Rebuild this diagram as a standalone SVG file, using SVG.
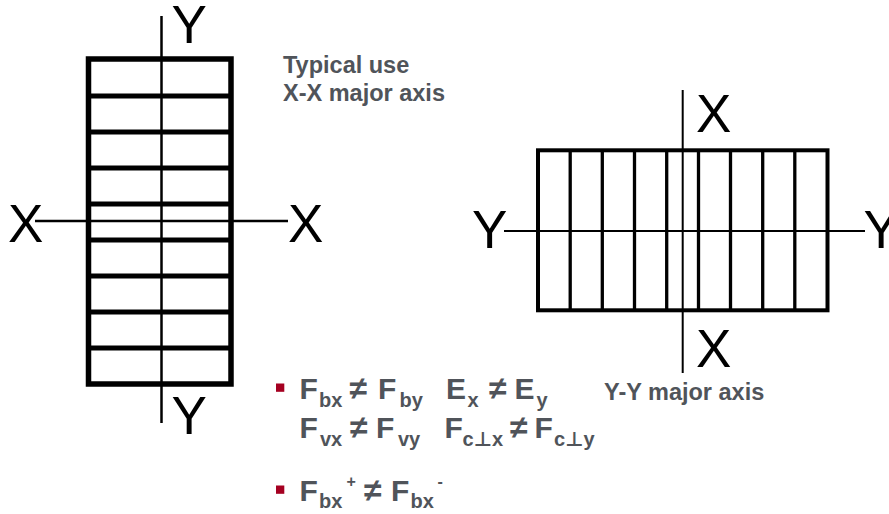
<svg xmlns="http://www.w3.org/2000/svg" width="889" height="514" viewBox="0 0 889 514">
  <style>
    .axis-label { font-family: "Liberation Sans", Arial, sans-serif; font-size: 53px; fill: #000; }
    .note { font-family: "Liberation Sans", Arial, sans-serif; font-size: 23.5px; font-weight: bold; fill: #50545a; }
    .eq { font-family: "Liberation Sans", "DejaVu Sans", Arial, sans-serif; font-size: 30px; font-weight: bold; fill: #50545a; }
    .sub { font-size: 20px; }
    .sup { font-size: 16px; }
    .ne { font-size: 32px; }
    .board { fill: none; stroke: #000; }
    .axis { stroke: #000; fill: none; }
    .bullet { fill: #a50021; }
  </style>
  <rect width="889" height="514" fill="#fff"/>

  <!-- Beam laid on edge: bending about X-X -->
  <g id="section-xx">
    <rect class="board" x="88.5" y="59" width="142.5" height="325" stroke-width="5.5"/>
    <g class="board" stroke-width="5">
      <line x1="88.5" y1="96" x2="231" y2="96"/>
      <line x1="88.5" y1="132" x2="231" y2="132"/>
      <line x1="88.5" y1="168" x2="231" y2="168"/>
      <line x1="88.5" y1="204" x2="231" y2="204"/>
      <line x1="88.5" y1="240" x2="231" y2="240"/>
      <line x1="88.5" y1="276" x2="231" y2="276"/>
      <line x1="88.5" y1="312" x2="231" y2="312"/>
      <line x1="88.5" y1="348" x2="231" y2="348"/>
    </g>
    <line class="axis" x1="161.5" y1="16" x2="161.5" y2="423" stroke-width="2.5"/>
    <line class="axis" x1="35" y1="221" x2="288" y2="221" stroke-width="2.5"/>
    <text class="axis-label" x="171.5" y="43">Y</text>
    <text class="axis-label" x="171.5" y="434">Y</text>
    <text class="axis-label" x="8" y="241.5">X</text>
    <text class="axis-label" x="288" y="241.5">X</text>
  </g>

  <g id="note-typical">
    <text class="note" x="283" y="72.5">Typical use</text>
    <text class="note" x="283" y="101">X-X major axis</text>
  </g>

  <!-- Beam laid flat: bending about Y-Y -->
  <g id="section-yy">
    <rect class="board" x="538" y="150.3" width="289.5" height="160" stroke-width="4"/>
    <g class="board" stroke-width="3.3">
      <line x1="570.2" y1="150.3" x2="570.2" y2="310.3"/>
      <line x1="602.3" y1="150.3" x2="602.3" y2="310.3"/>
      <line x1="634.5" y1="150.3" x2="634.5" y2="310.3"/>
      <line x1="666.7" y1="150.3" x2="666.7" y2="310.3"/>
      <line x1="698.5" y1="150.3" x2="698.5" y2="310.3"/>
      <line x1="730.5" y1="150.3" x2="730.5" y2="310.3"/>
      <line x1="762.7" y1="150.3" x2="762.7" y2="310.3"/>
      <line x1="794.8" y1="150.3" x2="794.8" y2="310.3"/>
    </g>
    <line class="axis" x1="682.7" y1="90" x2="682.7" y2="373" stroke-width="2"/>
    <line class="axis" x1="504" y1="231" x2="865" y2="231" stroke-width="2"/>
    <text class="axis-label" x="696" y="131.5">X</text>
    <text class="axis-label" x="696" y="367">X</text>
    <text class="axis-label" x="472" y="248">Y</text>
    <text class="axis-label" x="863.5" y="248">Y</text>
  </g>

  <g id="note-yy">
    <text class="note" x="604" y="399.5">Y-Y major axis</text>
  </g>

  <!-- Property inequalities -->
  <g id="bullet-1">
    <rect class="bullet" x="276" y="383.5" width="8.3" height="8.3"/>
    <text class="eq">
      <tspan x="299.5" y="399">F</tspan><tspan class="sub" x="319" y="406.5">bx</tspan>
      <tspan class="ne" x="349.5" y="399">≠</tspan>
      <tspan x="378" y="399">F</tspan><tspan class="sub" x="399.5" y="406.5">by</tspan>
      <tspan x="446" y="399">E</tspan><tspan class="sub" x="467.5" y="406.5">x</tspan>
      <tspan class="ne" x="489" y="399">≠</tspan>
      <tspan x="514.5" y="399">E</tspan><tspan class="sub" x="536.5" y="406.5">y</tspan>
    </text>
    <text class="eq">
      <tspan x="299.5" y="438">F</tspan><tspan class="sub" x="320" y="445.5">vx</tspan>
      <tspan class="ne" x="350" y="438">≠</tspan>
      <tspan x="376" y="438">F</tspan><tspan class="sub" x="398" y="445.5">vy</tspan>
      <tspan x="444.5" y="438">F</tspan><tspan class="sub" x="462.5" y="445.5">c⊥x</tspan>
      <tspan class="ne" x="510" y="438">≠</tspan>
      <tspan x="534.5" y="438">F</tspan><tspan class="sub" x="554" y="445.5">c⊥y</tspan>
    </text>
  </g>

  <g id="bullet-2">
    <rect class="bullet" x="276" y="485.5" width="8.3" height="8.3"/>
    <text class="eq">
      <tspan x="299.5" y="500.5">F</tspan><tspan class="sub" x="319" y="508">bx</tspan><tspan class="sup" x="346.5" y="487">+</tspan>
      <tspan class="ne" x="364" y="500.5">≠</tspan>
      <tspan x="391" y="500.5">F</tspan><tspan class="sub" x="410.5" y="508">bx</tspan><tspan class="sup" x="437.5" y="487">-</tspan>
    </text>
  </g>
</svg>
